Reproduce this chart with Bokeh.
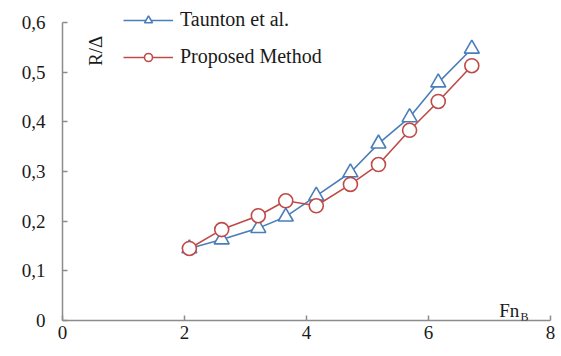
import math
from bokeh.plotting import figure
from bokeh.models import (Range1d, FixedTicker, CustomJSTickFormatter, Legend, LegendItem, Label)
from bokeh.embed import file_html
from bokeh.resources import INLINE

fn_b = [2.08, 2.61, 3.21, 3.66, 4.16, 4.72, 5.18, 5.69, 6.16, 6.71]
taunton = [0.145, 0.163, 0.186, 0.209, 0.251, 0.298, 0.356, 0.409, 0.479, 0.547]
proposed = [0.145, 0.183, 0.211, 0.241, 0.231, 0.274, 0.314, 0.383, 0.441, 0.513]
series_names = ["Taunton et al.", "Proposed Method"]
x_ticks = [0, 2, 4, 6, 8]
y_ticks = [0, 0.1, 0.2, 0.3, 0.4, 0.5, 0.6]

FONT = "'Liberation Serif', 'Times New Roman', serif"
BLUE = "#4a7ebb"
RED = "#be4b48"
AXIS = "#8c8c8c"
TXT = "#1a1a1a"

p = figure(width=558, height=352, output_backend="svg", toolbar_location=None,
           x_range=Range1d(0, 8), y_range=Range1d(0, 0.6362),
           frame_width=488, frame_height=316,
           min_border_left=62, min_border_top=4, min_border_right=8, min_border_bottom=32)
p.outline_line_color = None
p.xgrid.visible = False
p.ygrid.visible = False
p.background_fill_color = "white"
p.border_fill_color = "white"

for ax in (p.xaxis[0], p.yaxis[0]):
    ax.axis_line_color = AXIS
    ax.axis_line_width = 1.5
    ax.major_tick_line_color = AXIS
    ax.major_tick_line_width = 1.5
    ax.major_tick_in = 5
    ax.major_tick_out = 0
    ax.minor_tick_line_color = None
    ax.major_label_text_font = FONT
    ax.major_label_text_font_size = "19px"
    ax.major_label_text_color = TXT

p.xaxis[0].ticker = FixedTicker(ticks=x_ticks)
p.yaxis[0].ticker = FixedTicker(ticks=y_ticks)
p.yaxis[0].bounds = (0, 0.6)
p.xaxis[0].major_label_standoff = 5
p.yaxis[0].major_label_standoff = 17
fmt = CustomJSTickFormatter(code="return tick == 0 ? '0' : (Number.isInteger(tick) ? tick.toString() : tick.toFixed(1).replace('.', ','));")
p.xaxis[0].formatter = fmt
p.yaxis[0].formatter = fmt

l1 = p.line(fn_b, taunton, line_color=BLUE, line_width=1.6)
m1 = p.scatter(fn_b, taunton, marker="triangle", size=15, line_color=BLUE, line_width=1.6, fill_color="white")
l2 = p.line(fn_b, proposed, line_color=RED, line_width=1.6)
m2 = p.scatter(fn_b, proposed, marker="circle", size=14, line_color=RED, line_width=1.6, fill_color="white")

legend = Legend(items=[LegendItem(label=series_names[0], renderers=[l1, m1]),
                       LegendItem(label=series_names[1], renderers=[l2, m2])],
                location=(61, 252), padding=0, margin=0, spacing=14,
                glyph_width=50, glyph_height=20, label_height=20, label_standoff=7,
                label_text_font=FONT, label_text_font_size="20px", label_text_color=TXT,
                border_line_color=None, background_fill_alpha=0)
p.add_layout(legend)

p.add_layout(Label(x=0.54, y=0.543, text="R/Δ", angle=math.pi / 2, text_align="center",
                   text_baseline="middle", text_font=FONT, text_font_size="19px", text_color=TXT))
p.add_layout(Label(x=7.16, y=0.02, text="Fn", text_align="left", text_baseline="alphabetic",
                   text_font=FONT, text_font_size="19px", text_color=TXT))
p.add_layout(Label(x=7.51, y=0.008, text="B", text_align="left", text_baseline="alphabetic",
                   text_font=FONT, text_font_size="12px", text_color=TXT))

open("out.html", "w").write(file_html(p, INLINE))
